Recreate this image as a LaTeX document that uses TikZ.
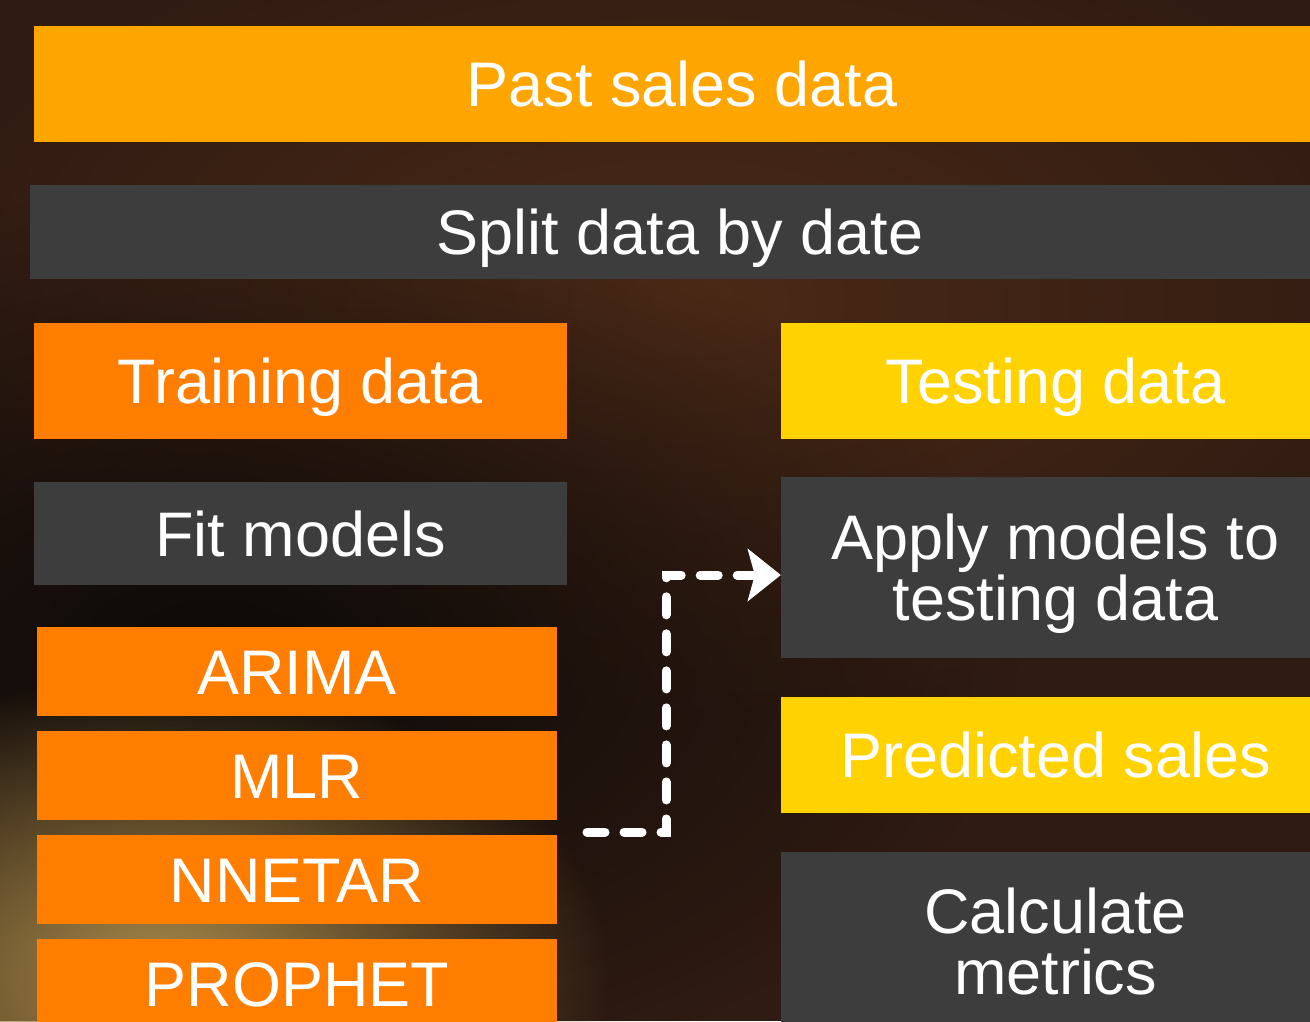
\documentclass[tikz,border=0pt]{standalone}
\usepackage{fontspec}
\setmainfont{Liberation Sans}
\usetikzlibrary{arrows.meta, positioning, fadings}

\definecolor{bgbrown}{HTML}{2F1B12}
\definecolor{bgdark}{HTML}{0D0A08}
\definecolor{bglight}{HTML}{4C2A17}
\definecolor{bgglow}{HTML}{A88A4A}
\definecolor{pastorange}{HTML}{FFA500}
\definecolor{trainorange}{HTML}{FF7E00}
\definecolor{testyellow}{HTML}{FFD200}
\definecolor{stepgray}{HTML}{3D3D3D}

\tikzfading[name=softglow, inner color=transparent!0, outer color=transparent!100]

\begin{document}
\begin{tikzpicture}[
    x=0.01cm, y=-0.01cm,
    node distance=0.15cm,
    every node/.style={rectangle, inner sep=0pt, outer sep=0pt, text=white, align=center,
        font=\fontsize{17.9}{17.3}\selectfont, text height=0.45cm, text depth=0pt},
    box/.style={fill=#1, minimum height=1.16cm},
    model/.style={box=trainorange, minimum width=5.2cm, minimum height=0.89cm},
    flow/.style={draw=white, line width=0.09cm, line cap=round,
        dash pattern=on 0.18cm off 0.19cm,
        -{Stealth[length=0.33cm, width=0.52cm, inset=0.07cm]}}
]

% --- Background ---
\useasboundingbox (0,0) rectangle (1310,1021);
\clip (0,0) rectangle (1310,1021);
\fill[bgbrown] (0,0) rectangle (1310,1021);
\fill[bglight, path fading=softglow] (680,300) ellipse (800 and 420);
\fill[bgdark, path fading=softglow] (220,650) ellipse (800 and 460);
\fill[bgglow, path fading=softglow] (160,975) ellipse (450 and 300);

% --- Steps ---
\node[box=pastorange, minimum width=12.96cm] (past) at (682,84) {Past sales data};
\node[box=stepgray, minimum width=13cm, minimum height=0.94cm] (split) at (680,232) {Split data by date};
\node[box=trainorange, minimum width=5.33cm] (train) at (300.5,381) {Training data};
\node[box=testyellow, minimum width=5.49cm] (test) at (1055.5,381) {Testing data};
\node[box=stepgray, minimum width=5.33cm, minimum height=1.03cm] (fit) at (300.5,533.5) {Fit models};
\node[box=stepgray, minimum width=5.49cm, minimum height=1.81cm, text height=1.06cm] (apply) at (1055.5,567.5) {Apply models to\\testing data};
\node[box=testyellow, minimum width=5.49cm] (pred) at (1055.5,755) {Predicted sales};
\node[box=stepgray, minimum width=5.49cm, minimum height=1.78cm, text height=1.06cm] (metrics) at (1055.5,941) {Calculate\\metrics};

% --- Models ---
\node[model] (arima) at (297,671.5) {ARIMA};
\node[model, below=of arima] (mlr) {MLR};
\node[model, below=of mlr] (nnetar) {NNETAR};
\node[model, below=of nnetar] (prophet) {PROPHET};

% --- Dashed connector ---
\coordinate (out) at (587,832);
\coordinate (turn) at (666,575);
\draw[flow] (out) -| (turn) -- (turn -| apply.west);

\end{tikzpicture}
\end{document}
